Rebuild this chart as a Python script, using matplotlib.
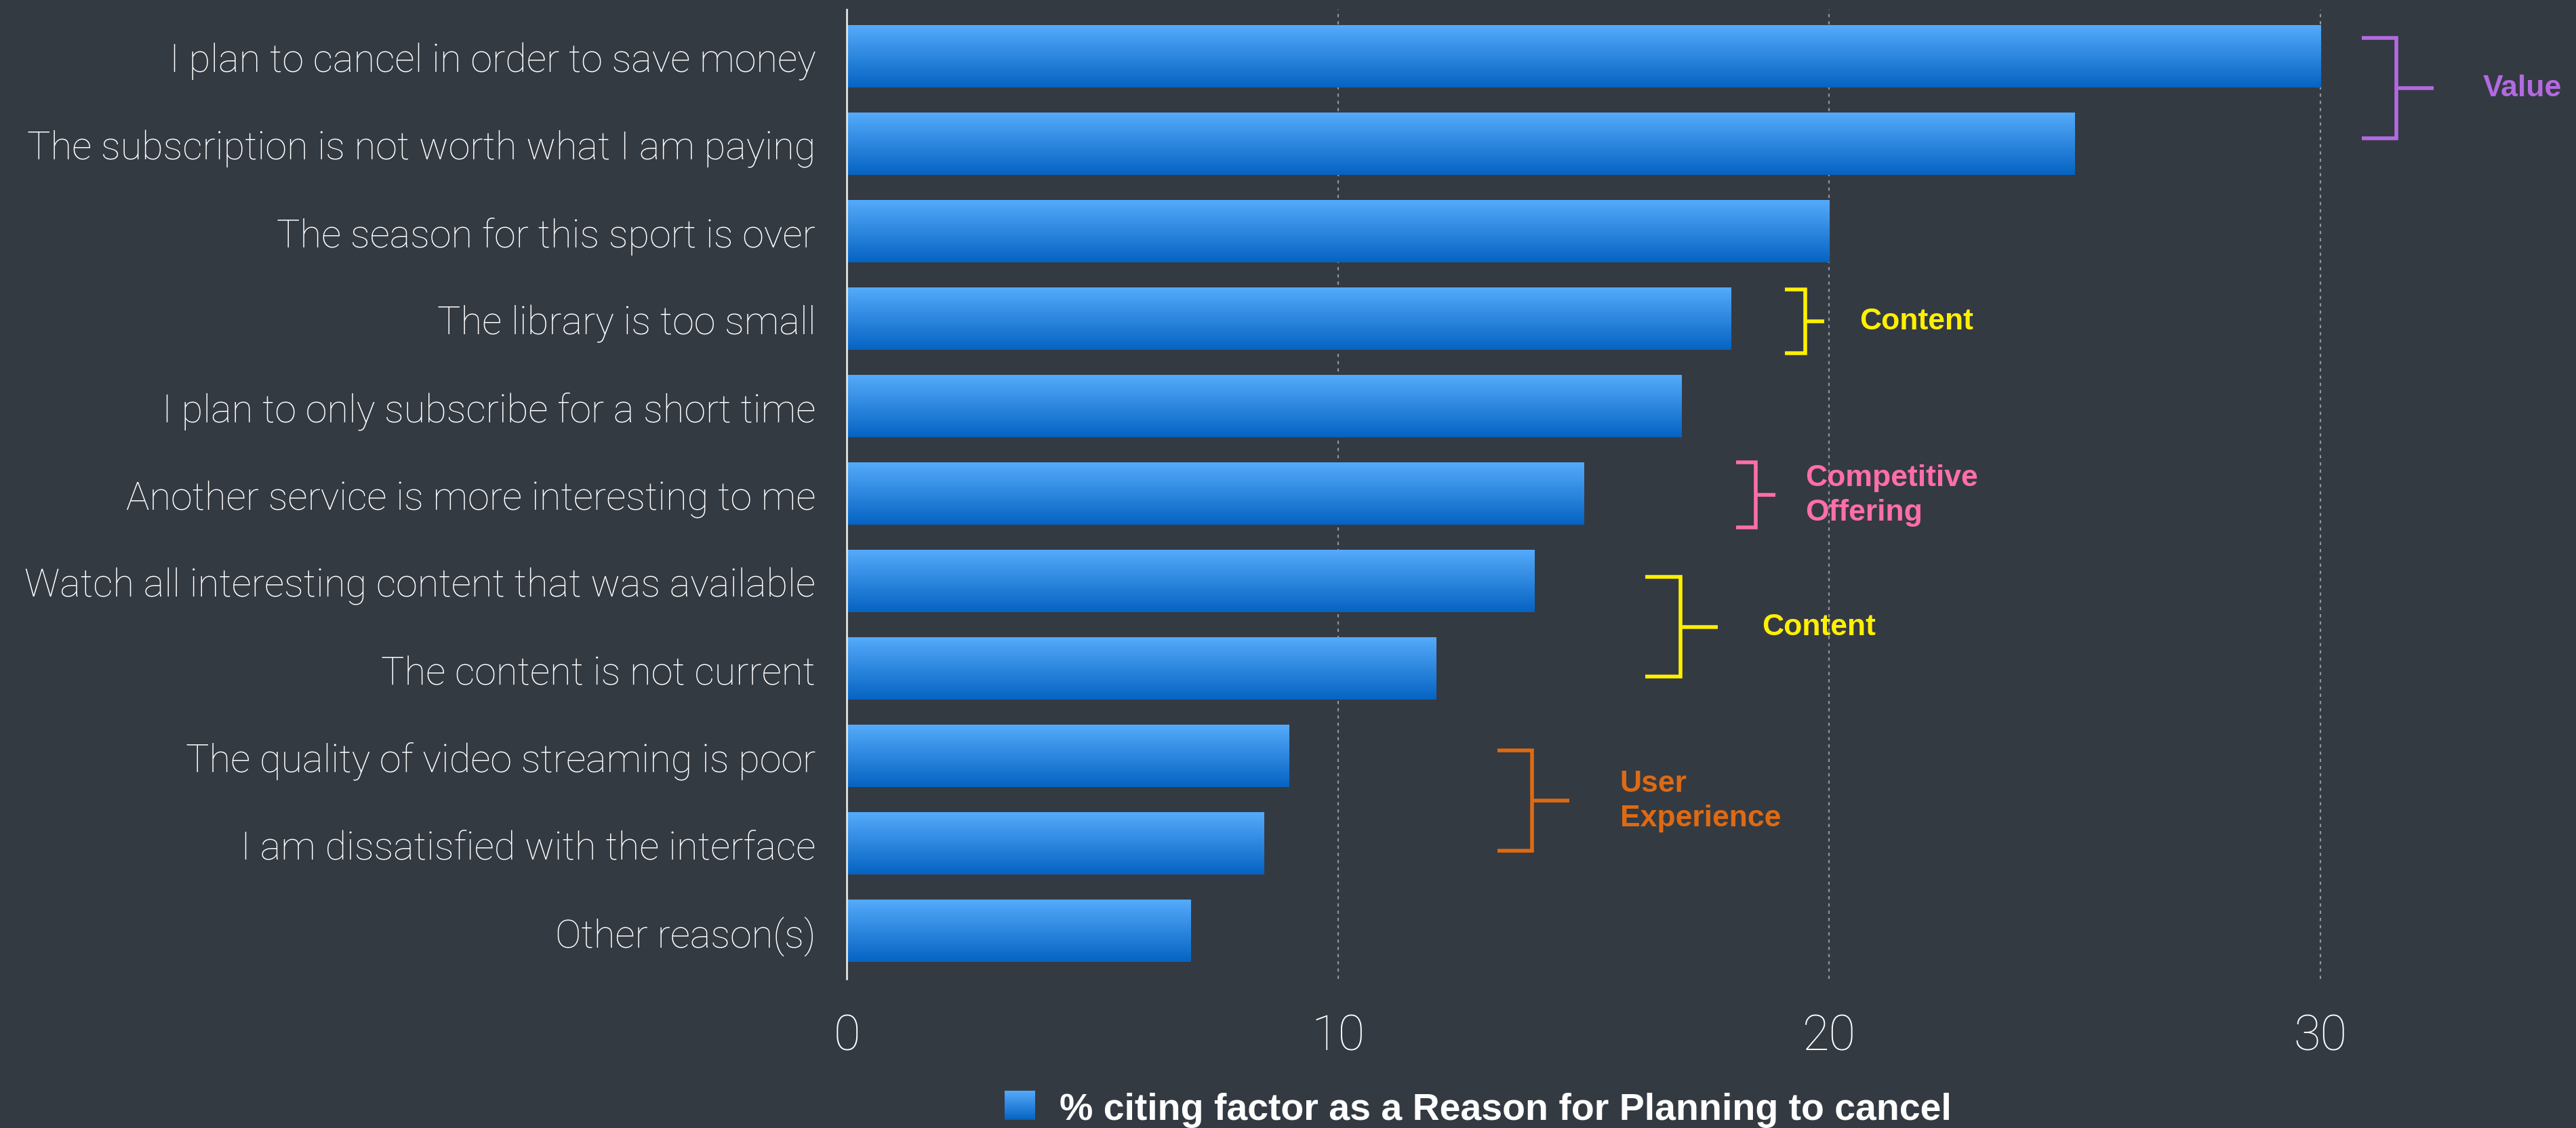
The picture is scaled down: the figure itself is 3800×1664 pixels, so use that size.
import matplotlib
matplotlib.use("Agg")
import matplotlib.pyplot as plt
import numpy as np
from matplotlib.colors import to_rgb

# ---------------- data ----------------
categories = [
    "I plan to cancel in order to save money",
    "The subscription is not worth what I am paying",
    "The season for this sport is over",
    "The library is too small",
    "I plan to only subscribe for a short time",
    "Another service is more interesting to me",
    "Watch all interesting content that was available",
    "The content is not current",
    "The quality of video streaming is poor",
    "I am dissatisfied with the interface",
    "Other reason(s)",
]
values = [30, 25, 20, 18, 17, 15, 14, 12, 9, 8.5, 7]
xticks = [0, 10, 20, 30]
series_label = "% citing factor as a Reason for Planning to cancel"

group_labels = ["Value", "Content", "Competitive\nOffering", "Content", "User\nExperience"]
group_first = [0, 3, 5, 6, 8]
group_last = [1, 3, 5, 7, 9]

# ---------------- style / layout ----------------
BG = "#343a42"
TOP_C = "#55abfb"
BOT_C = "#0563c2"
group_colors = ["#b36ae0", "#fff000", "#ff6eaa", "#fff000", "#dd6a14"]
# bracket layout (vertical x, left-tick x, mid-tick end x, text x, top/bottom offsets)
br_vx = [31.54, 19.51, 18.50, 16.97, 13.95]
br_lx = [30.84, 19.10, 18.10, 16.25, 13.25]
br_mx = [32.30, 19.90, 18.90, 17.73, 14.71]
br_tx = [33.31, 20.62, 19.51, 18.63, 15.74]
br_top = [-0.21, -0.34, -0.36, -0.05, -0.07]
br_bot = [-0.07, 0.39, 0.38, 0.09, 0.08]

LABEL_FONT = "Roboto"
BOLD_FONT = ["Liberation Sans", "DejaVu Sans"]

W, H = 3800, 1665
fig = plt.figure(figsize=(W / 100, H / 100), dpi=100, facecolor=BG)

ax_left, ax_right_px = 1249, 3800
ax_top_px, ax_bot_px = 15, 1445
ax = fig.add_axes([ax_left / W, 1 - ax_bot_px / H, (ax_right_px - ax_left) / W,
                   (ax_bot_px - ax_top_px) / H])
ax.set_facecolor(BG)

y = np.arange(len(categories))
bars = ax.barh(y, values, height=0.71, color="none", edgecolor="none", zorder=3)

# vertical gradient for each bar
grad = np.linspace(0, 1, 256)[:, None, None]
c_top = np.array(to_rgb(TOP_C))[None, None, :]
c_bot = np.array(to_rgb(BOT_C))[None, None, :]
img = c_top * (1 - grad) + c_bot * grad
for r in bars:
    x0, y0 = r.get_x(), r.get_y()
    w, h = r.get_width(), r.get_height()
    ax.imshow(img, extent=(x0, x0 + w, y0 + h, y0), origin="upper",
              aspect="auto", zorder=3, interpolation="bilinear")

xmax = (ax_right_px - ax_left) / 72.47
ax.set_xlim(0, xmax)
ax.set_ylim(10.546, -0.539)
ax.set_aspect("auto")

ax.set_yticks(y)
ax.set_yticklabels(categories)
ax.set_xticks(xticks)
ax.set_xticklabels([str(t) for t in xticks])
ax.tick_params(axis="y", length=0, pad=33, labelsize=41.5, labelcolor="white")
ax.tick_params(axis="x", length=0, pad=36, labelsize=52, labelcolor="white")
for lab in ax.get_yticklabels() + ax.get_xticklabels():
    lab.set_fontfamily(LABEL_FONT)
    lab.set_fontweight("light")

for s in ["top", "right", "bottom"]:
    ax.spines[s].set_visible(False)
ax.spines["left"].set_color("#e4e4e4")
ax.spines["left"].set_linewidth(2)
ax.spines["left"].set_zorder(5)

ax.xaxis.grid(True, color="#90949a", linewidth=1.6, linestyle=(0, (2.1, 2.7)), zorder=1)
ax.yaxis.grid(False)
ax.set_axisbelow(True)

# brackets
for i, lab in enumerate(group_labels):
    yt = group_first[i] + br_top[i]
    yb = group_last[i] + br_bot[i]
    col = group_colors[i]
    ax.plot([br_lx[i], br_vx[i], br_vx[i], br_lx[i]], [yt, yt, yb, yb],
            color=col, linewidth=4, solid_joinstyle="miter", solid_capstyle="butt",
            clip_on=False, zorder=4)
    ym = (yt + yb) / 2
    ax.plot([br_vx[i], br_mx[i]], [ym, ym], color=col, linewidth=4,
            solid_capstyle="butt", clip_on=False, zorder=4)
    ax.text(br_tx[i], ym, lab, color=col, fontsize=32, fontweight="bold",
            family=BOLD_FONT, ha="left", va="center", linespacing=1.32, zorder=4)

# legend
lax = fig.add_axes([1482 / W, 1 - 1653 / H, 44 / W, 43 / H])
lax.imshow(img, aspect="auto", extent=(0, 1, 0, 1), origin="upper")
lax.set_axis_off()
fig.text(1563 / W, 1 - 1652 / H, series_label, color="white", fontsize=40,
         fontweight="bold", family=BOLD_FONT, ha="left", va="baseline")

fig.savefig("out.png", dpi=100, facecolor=BG)
